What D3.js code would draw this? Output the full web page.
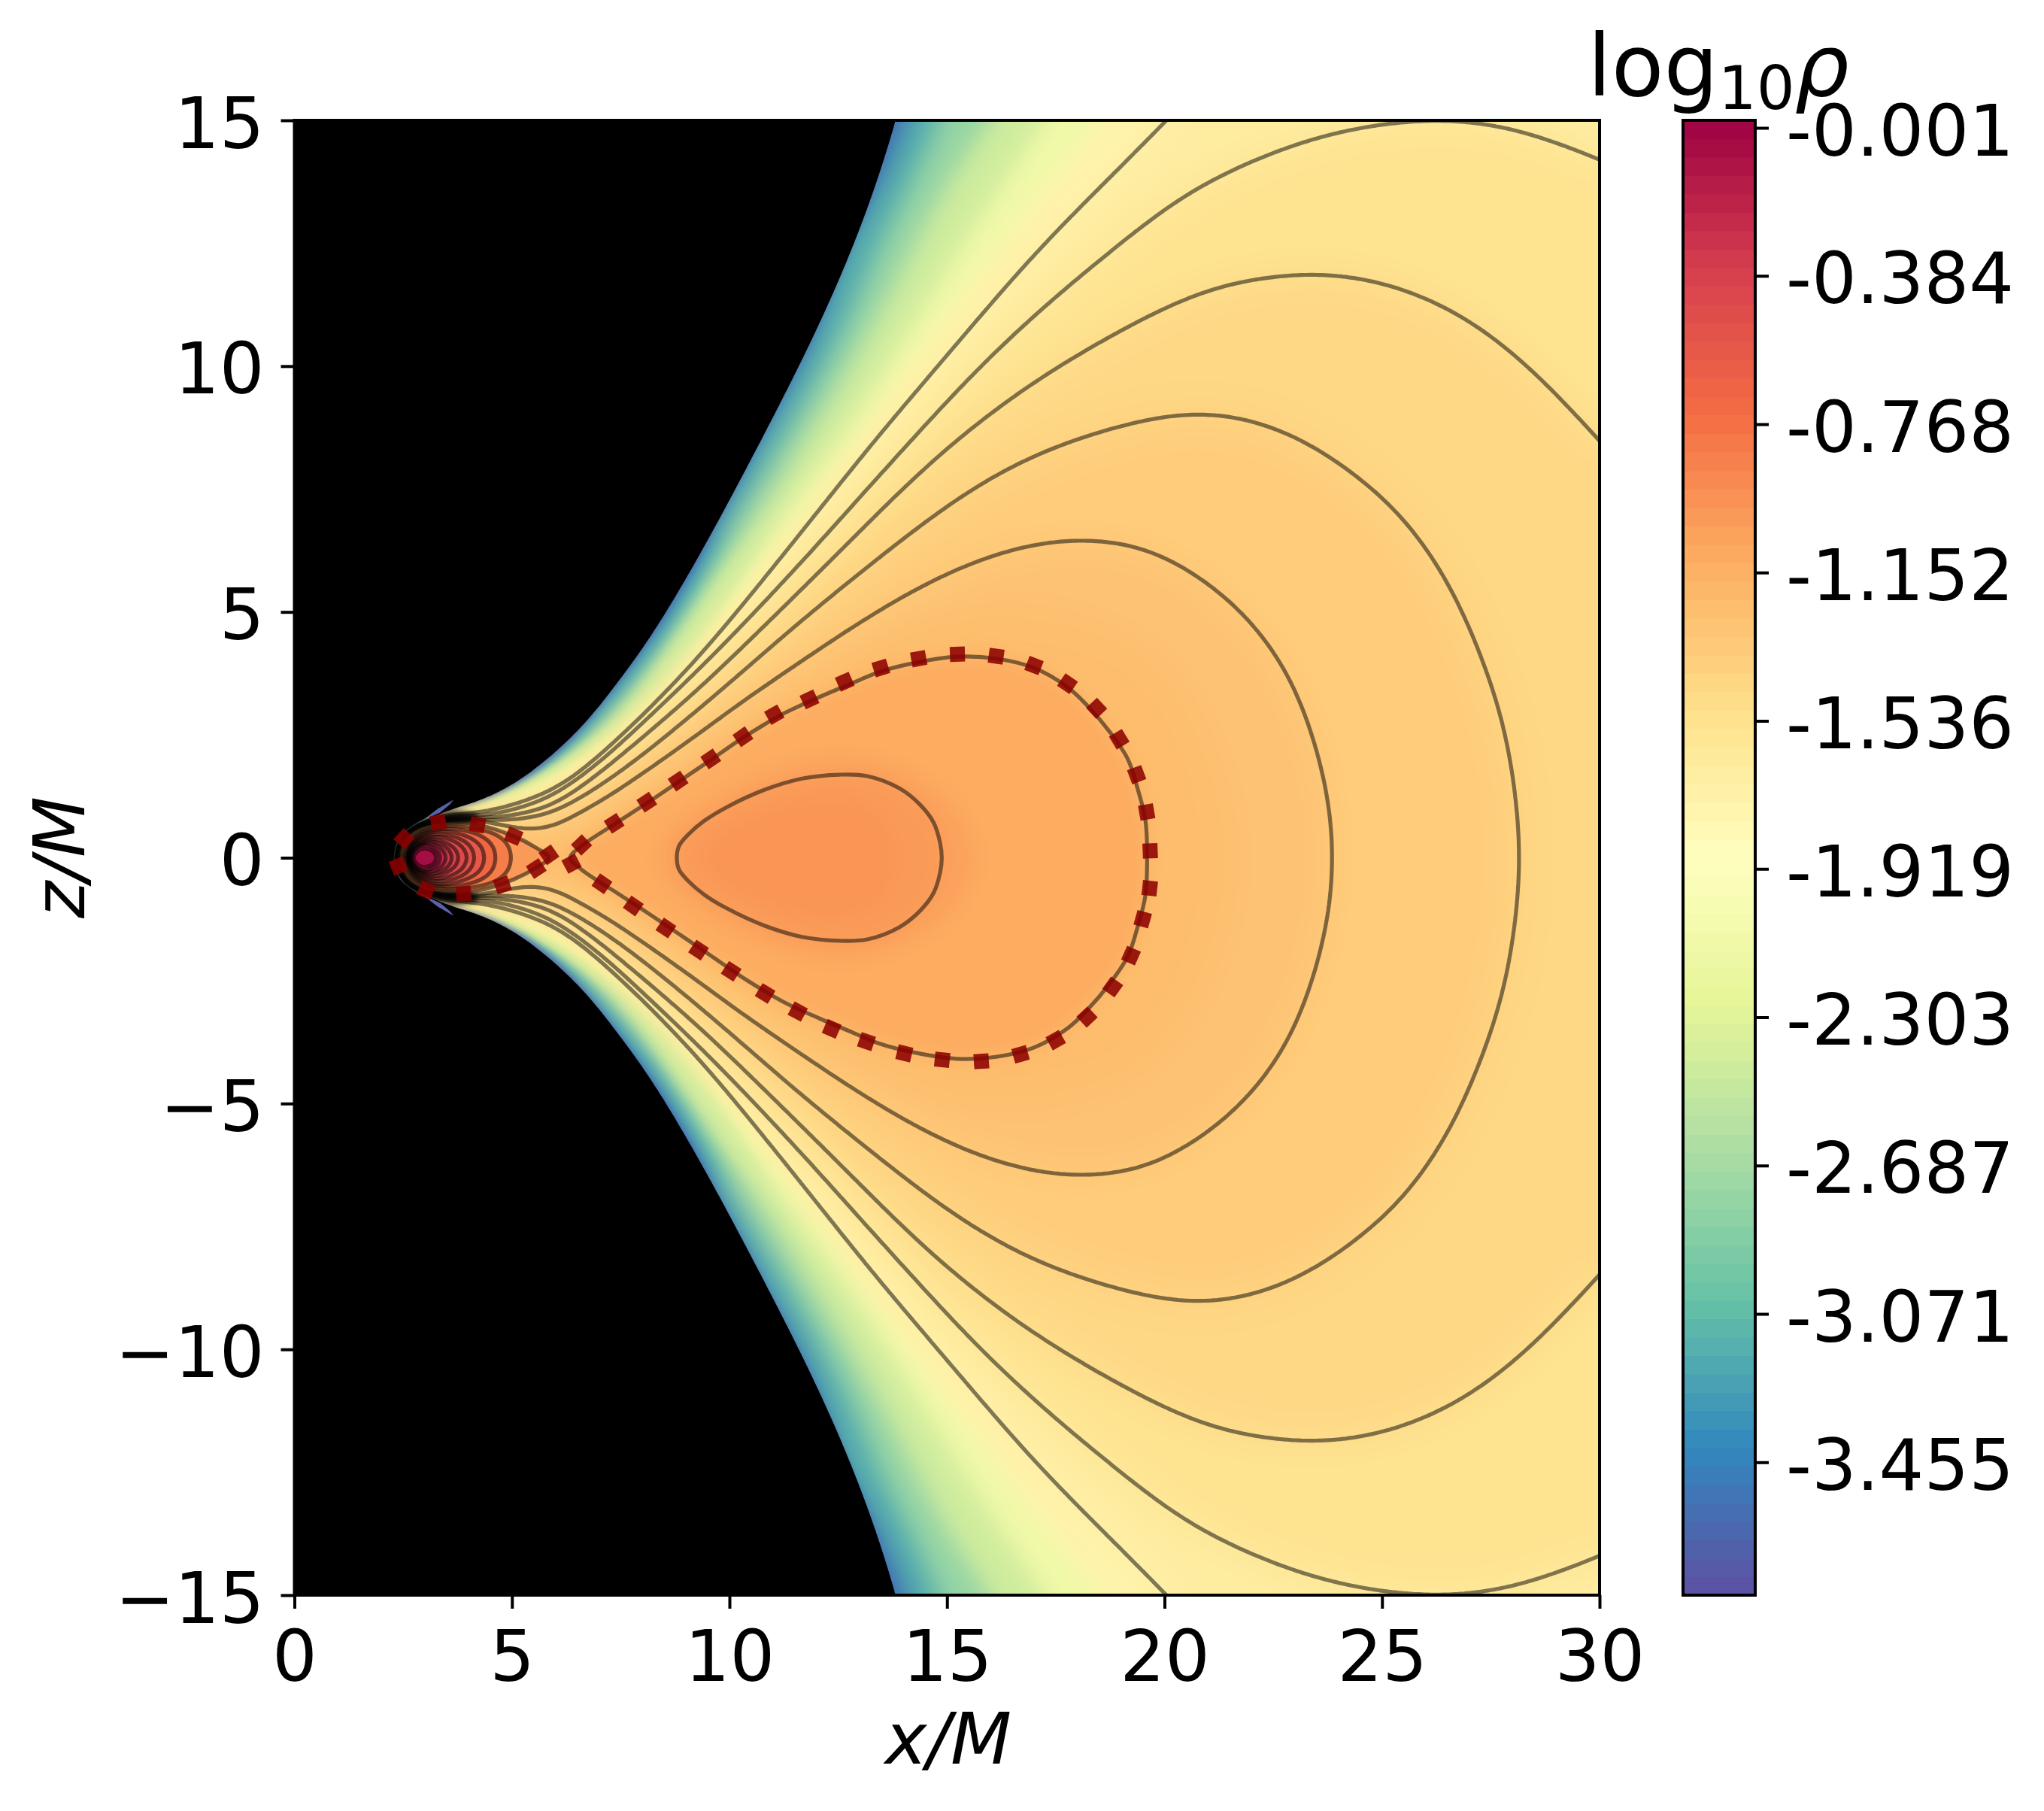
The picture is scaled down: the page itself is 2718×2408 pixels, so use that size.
<!DOCTYPE html>
<html><head><meta charset="utf-8">
<script src="https://cdn.jsdelivr.net/npm/d3@7"></script>
<style>html,body{margin:0;background:#fff}svg{display:block}text{font-family:"DejaVu Sans";fill:#000}</style>
</head><body><svg id="c" width="2718" height="2408"></svg>
<script>
const xTicks=[0,5,10,15,20,25,30];
const zTicks=[-15,-10,-5,0,5,10,15];
const cbarTicks=["-0.001","-0.384","-0.768","-1.152","-1.536","-1.919","-2.303","-2.687","-3.071","-3.455"];
const cbarDomain=[-3.799,0.0185];
const cbarBandCount=80;
const spectralR=["#5e4fa2","#3288bd","#66c2a5","#abdda4","#e6f598","#ffffbf","#fee08b","#fdae61","#f46d43","#d53e4f","#9e0142"];

const wall=[[13.9,15.3],[13.85,15.05],[13.3,13.44],[12.4,11.45],[11.41,9.65],[10.52,8.14],[9.6,6.6],[8.70,5.21],[8.04,4.29],[7.40,3.53],[6.77,2.81],[6.08,2.2],[5.33,1.66],[4.76,1.36],[4.18,1.13],[3.60,.99],[2.92,.74],[2.45,.46],[2.22,0]];
const bandBlue=[[14.2,15.05],[13.6,13.6],[12.9,12.55],[12.37,11.1],[11.72,9.8],[10.84,8.5],[10.52,7.84],[9.7,6.55],[8.80,5.1],[8.1,4.2],[7.46,3.45],[6.83,2.75],[6.13,2.15],[5.38,1.63],[4.8,1.34],[4.2,1.12],[3.6,.98],[2.92,.73],[2.45,.45],[2.22,0]];
const bandTeal=[[14.9,15.05],[14.2,13.6],[13.5,12.55],[12.9,11.1],[12.2,9.9],[11.3,8.5],[10.52,7.4],[9.8,6.25],[8.95,4.95],[8.25,4.05],[7.6,3.3],[6.95,2.65],[6.2,2.08],[5.43,1.58],[4.85,1.3],[4.2,1.09],[3.6,.97],[2.9,.72],[2.44,.45],[2.22,0]];
const bandGreen=[[16.06,15.05],[15.06,13.8],[14.3,12.45],[13.5,11.1],[12.75,9.9],[11.77,8.5],[11.1,7.55],[10.52,6.79],[9.5,5.4],[8.55,4.2],[7.75,3.2],[6.9,2.45],[6.0,1.85],[5.0,1.38],[4.3,1.1],[3.6,.96],[2.88,.71],[2.43,.44],[2.22,0]];
const bandPale=[[17.3,15.05],[15.4,12.55],[14.4,11.1],[13.4,9.65],[12.76,8.75],[11.9,7.76],[11.26,6.95],[10.52,6.0],[9.94,5.16],[8.79,3.85],[7.92,3.0],[6.83,2.2],[5.91,1.64],[4.76,1.18],[3.6,.95],[2.85,.70],[2.42,.44],[2.24,0]];
const bandYellow=[[18.6,15.05],[16.3,12.55],[14.0,9.8],[12.55,8],[10.2,5.2],[8.02,3],[7.0,2.2],[6.15,1.6],[5.1,1.15],[4.0,.92],[3.1,.84],[2.65,.66],[2.39,.42],[2.24,0]];

const lineL1=[[20.1,15.05],[19.16,14.2],[17.9,13.1],[16.7,12],[14.6,9.8],[13.51,8.68],[12.53,7.6],[11.67,6.64],[10.37,5.21],[9.36,4.14],[8.21,3.07],[7.29,2.30],[6.48,1.68],[5.73,1.28],[4.75,1.0],[4.06,.90],[3.26,.85],[2.68,.67],[2.39,.41],[2.24,0]];
const lineL2=[[30,14.2],[28.9,14.6],[27.8,14.9],[26.64,15.03],[25.49,15.0],[24.05,14.8],[22.9,14.5],[21.46,13.98],[20.31,13.42],[19.16,12.63],[17.05,11.1],[15.53,9.8],[14.26,8.57],[13.11,7.45],[11.96,6.3],[10.52,4.93],[9.36,3.88],[8.21,2.91],[7.29,2.15],[6.48,1.57],[5.73,1.16],[4.75,.9],[4.06,.85],[3.26,.82],[2.68,.64],[2.41,.39],[2.26,0]];
const lineL3=[[30,8.48],[28.9,9.55],[27.8,10.46],[26.64,11.16],[25.49,11.6],[24.34,11.85],[23.19,11.92],[21.46,11.72],[20.31,11.33],[19.16,10.82],[17.14,9.8],[15.41,8.66],[14.14,7.66],[12.82,6.48],[11.67,5.47],[10.52,4.47],[9.36,3.48],[8.21,2.6],[7.29,1.92],[6.48,1.36],[5.73,.98],[4.75,.82],[4.18,.82],[3.26,.80],[2.68,.62],[2.43,.37],[2.28,0]];
const lineL4=[[28.2,0],[28.1,1.2],[27.85,2.6],[27.5,3.6],[27.0,4.75],[26.5,5.65],[26.07,6.25],[25.49,6.94],[24.83,7.5],[23.65,8.3],[22.4,8.85],[21.17,9.07],[20.31,9.05],[19.16,8.85],[17.43,8.38],[15.99,7.76],[14.55,6.89],[13.11,5.87],[11.67,4.85],[10.52,3.95],[9.36,3.07],[8.21,2.23],[7.29,1.62],[6.48,1.16],[5.73,.84],[4.75,.75],[4.18,.79],[3.26,.78],[2.68,.6],[2.44,.37],[2.3,0]];
const lineL5=[[23.9,0],[23.82,.98],[23.65,1.74],[23.36,2.66],[22.96,3.58],[22.44,4.34],[21.86,4.95],[21.29,5.41],[20.65,5.82],[19.9,6.2],[19.16,6.43],[17.83,6.52],[16.56,6.33],[15.12,5.87],[13.68,5.18],[12.24,4.36],[11.09,3.65],[10.52,3.33],[9.36,2.56],[8.21,1.84],[7.29,1.28],[6.48,.87],[5.91,.62],[5.33,.57],[4.75,.67],[4.18,.77],[3.26,.77],[2.68,.57],[2.45,.36],[2.32,0]];
const bandMid=[[21.6,0],[21.4,1.38],[20.88,2.66],[20.19,3.83],[19.16,4.6],[16.56,5.18],[14.55,4.9],[12.82,4.29],[11.67,3.68],[10.52,3.07],[9.3,2.3],[8.1,1.5],[7.2,.95],[6.4,.6],[5.6,.55],[4.8,.62],[4.2,.72],[3.3,.74],[2.7,.55],[2.43,.34],[2.33,0]];
const lineTorus=[[19.6,0],[19.56,.77],[19.39,1.38],[19.16,2.0],[18.75,2.55],[18.23,3.09],[17.77,3.47],[17.0,3.86],[16.13,4.05],[15.24,4.09],[14.35,3.98],[13.48,3.79],[12.82,3.55],[12.07,3.27],[11.26,2.94],[10.31,2.44],[9.57,1.99],[8.82,1.54],[8.10,1.11],[7.35,.68],[6.6,.24],[6.34,0]];
const lineLoop=[[5.85,0],[5.56,.2],[5.04,.44],[4.21,.67],[3.31,.72],[2.8,.62],[2.52,.39],[2.38,0]];
const bandTorusOuter=[[8.41,0],[8.6,.5],[9.5,1.1],[10.8,1.7],[12.5,2.05],[14.0,1.75],[15.1,1.1],[15.64,0]];
const lineCore=[[8.79,0],[8.84,.24],[9.05,.47],[9.42,.75],[9.94,1.03],[10.8,1.38],[11.67,1.61],[12.53,1.69],[13.17,1.66],[13.91,1.41],[14.38,1.08],[14.69,.72],[14.84,.31],[14.88,0]];
const bandCoreInner=[[9.42,0],[9.7,.4],[10.7,.9],[12.07,1.2],[13.2,1.05],[13.7,.55],[13.85,0]];

const oval1=[[5.0,0],[4.93,.263],[4.70,.456],[4.35,.569],[3.95,.63],[3.49,.655],[3.03,.594],[2.71,.416],[2.57,.186],[2.54,0]];
const oval2=[[4.64,0],[4.58,.24],[4.38,.416],[4.06,.533],[3.66,.594],[3.26,.579],[2.91,.49],[2.67,.314],[2.57,0]];
const oval3=[[4.38,0],[4.32,.214],[4.15,.365],[3.86,.477],[3.55,.543],[3.2,.543],[2.88,.441],[2.67,.263],[2.58,0]];
const oval4=[[4.15,0],[4.09,.186],[3.95,.324],[3.72,.426],[3.43,.482],[3.14,.477],[2.85,.39],[2.67,.222],[2.6,0]];
const oval5=[[3.98,0],[3.92,.16],[3.79,.288],[3.57,.38],[3.34,.431],[3.08,.426],[2.85,.354],[2.68,.196],[2.61,0]];
const oval6=[[3.78,0],[3.73,.145],[3.61,.252],[3.43,.334],[3.23,.38],[3.03,.375],[2.83,.303],[2.68,.171],[2.62,0]];
const oval7=[[3.63,0],[3.59,.119],[3.49,.222],[3.34,.293],[3.17,.339],[3.0,.334],[2.83,.273],[2.7,.15],[2.64,0]];
const oval8=[[3.49,0],[3.45,.11],[3.36,.2],[3.25,.263],[3.1,.298],[2.96,.288],[2.83,.237],[2.72,.135],[2.66,0]];
const oval9=[[3.36,0],[3.33,.1],[3.25,.176],[3.14,.232],[3.03,.263],[2.91,.253],[2.81,.206],[2.73,.12],[2.68,0]];
const oval10=[[3.27,0],[3.23,.1],[3.14,.16],[3.0,.191],[2.88,.176],[2.79,.11],[2.72,0]];

const cuspShadow=[[4.2,.9],[3.6,.95],[2.92,.74],[2.45,.46],[2.24,0],[2.6,0],[2.62,.2],[2.78,.42],[3.25,.62],[3.8,.68],[4.2,.74]];
const cuspRim=[[3.1,.82],[2.75,.66],[2.45,.44],[2.33,.2],[2.3,0]];

// log10(rho) filling the region inside each drawn contour
const openFillLevels=[-3.56,-3.15,-2.77,-2.42,-2.12,-1.74,-1.66,-1.55,-1.45,-1.364,-1.28,-1.24];
const coreFillLevels=[-1.113,-1.055,-1.01,-.98];
const ovalFillLevels=[-1.012,-.84,-.688,-.573,-.516,-.459,-.401,-.325,-.249,-.153,-.027];

const spike=[[2.95,.76],[3.3,1.0],[3.66,1.18],[3.58,1.09],[3.35,.92]];
const dotsRing=[[6.6,.26],[7.35,.70],[8.10,1.13],[8.82,1.56],[9.57,2.01],[10.31,2.46],[11.03,2.91],[11.84,3.22],[12.65,3.58],[13.48,3.86],[14.35,4.05],[15.24,4.14],[16.13,4.10],[17.0,3.91],[17.77,3.54],[18.44,3.04],[18.96,2.41],[19.36,1.69],[19.59,.93],[19.67,.14],[19.66,-.62],[19.5,-1.25],[19.23,-1.99],[18.81,-2.63],[18.22,-3.24],[17.5,-3.71],[16.69,-4.0],[15.79,-4.14],[14.89,-4.11],[14.02,-3.98],[13.15,-3.74],[12.35,-3.48],[11.57,-3.13],[10.82,-2.76],[10.04,-2.31],[9.29,-1.88],[8.54,-1.43],[7.79,-.98],[7.07,-.53],[6.37,-.12]];
const dotsLoop=[[5.85,.06],[5.04,.44],[4.21,.67],[3.31,.72],[2.52,.39],[2.39,-.17],[3.03,-.66],[3.89,-.73],[4.78,-.555],[5.56,-.22]];

const svg=d3.select("#c");
const x=d3.scaleLinear([0,30],[391.5,2127]);
const y=d3.scaleLinear([-15,15],[2121,160]);
const cy=d3.scaleLinear(cbarDomain,[2121,160]);
const tOf=d3.scaleLinear([-3.8175+0.0185,0.0185],[0,1]);
const cmap=d3.scaleLinear(d3.range(11).map(i=>i/10),spectralR).interpolate(d3.interpolateRgb).clamp(true);
const col=v=>cmap(tOf(v));
const basisOpen=d3.line(d=>x(d[0]),d=>y(d[1])).curve(d3.curveBasis);
const basisClosed=d3.line(d=>x(d[0]),d=>y(d[1])).curve(d3.curveBasisClosed);
const lineClosed=d3.line(d=>x(d[0]),d=>y(d[1])).curve(d3.curveCatmullRomClosed.alpha(.5));
const lineThrough=d3.line(d=>x(d[0]),d=>y(d[1])).curve(d3.curveCatmullRom.alpha(.5));
const mirror=p=>{const lo=p.slice(0,-1).reverse().map(d=>[d[0],-d[1]]);return p.concat(lo);};
const loop=p=>p.concat(p.slice(1,-1).reverse().map(d=>[d[0],-d[1]]));
const P=(a,b)=>`L${x(a)},${y(b)}`;
const probe=svg.append("path").attr("fill","none").style("visibility","hidden");
function fair(d,closed){
  probe.attr("d",d);
  const n=probe.node(),L=n.getTotalLength(),step=4,N=Math.floor(L/step),pts=[];
  for(let i=0;i<=N;i++){const q=n.getPointAtLength(i*L/N);pts.push([q.x,q.y]);}
  const out=pts.map((p,i)=>{
    const s=Math.max(1,Math.min(9,(p[0]-x(6.5))/(x(11)-x(6.5))*9));
    const r=Math.ceil(3*s);let sx=0,sy=0,sw=0;
    for(let k=-r;k<=r;k++){
      let j=i+k;
      if(closed){j=(j+N*2)%N;}else{if(j<0)j=-j;if(j>N)j=2*N-j;}
      const w=Math.exp(-k*k/(2*s*s));sx+=w*pts[j][0];sy+=w*pts[j][1];sw+=w;
    }
    return [sx/sw,sy/sw];
  });
  out[0]=closed?out[0]:pts[0];if(!closed)out[N]=pts[N];
  return "M"+out.map(p=>p[0].toFixed(1)+","+p[1].toFixed(1)).join("L")+(closed?"Z":"");
}
const fOpen=p=>fair(basisOpen(mirror(p)),false);
const fClosed=p=>fair(basisClosed(loop(p)),true);
function openPath(p){
  const s=p[0];
  if(s[1]>=15)  return fOpen(p)+P(s[0],-17)+P(33,-17)+P(33,17)+P(s[0],17)+"Z";
  return fOpen(p)+P(33,-s[1])+P(33,s[1])+"Z";
}
const defs=svg.append("defs");
defs.append("clipPath").attr("id","pl").append("rect").attr("x",x(0)).attr("y",y(15)).attr("width",x(30)-x(0)).attr("height",y(-15)-y(15));
const addBlur=(id,s)=>defs.append("filter").attr("id",id).attr("filterUnits","userSpaceOnUse").attr("x",-300).attr("y",-300).attr("width",3400).attr("height",3000).append("feGaussianBlur").attr("stdDeviation",s);
[["bB",26],["bC",12],["bD",1],["bM",20],["bS",3]].forEach(d=>addBlur(d[0],d[1]));
const plot=svg.append("g").attr("clip-path","url(#pl)");
plot.append("rect").attr("x",x(0)).attr("y",y(15)).attr("width",x(30)-x(0)).attr("height",y(-15)-y(15)).attr("fill",col(-3.8));

const outerBands=[wall,bandBlue,bandTeal,bandGreen,bandPale,bandYellow];
const outerPaths=outerBands.map(openPath);
[[3,0],[8,2.6],[15,6.5]].forEach(([sd,zFrom],k)=>{
  addBlur("bA"+k,sd);
  let host=plot;
  if(zFrom>0){
    const m=defs.append("mask").attr("id","mA"+k).attr("maskUnits","userSpaceOnUse").attr("x",-300).attr("y",-300).attr("width",3400).attr("height",3000);
    const mg=m.append("g").attr("filter","url(#bM)").attr("fill","#fff");
    mg.append("rect").attr("x",-300).attr("width",3400).attr("y",-300).attr("height",y(zFrom)+300);
    mg.append("rect").attr("x",-300).attr("width",3400).attr("y",y(-zFrom)).attr("height",3000);
    host=plot.append("g").attr("mask","url(#mA"+k+")");
  }
  host.append("g").attr("filter","url(#bA"+k+")").selectAll("path").data(outerPaths).join("path")
    .attr("d",d=>d).attr("fill",(d,i)=>col(openFillLevels[i]));
});
const gB=plot.append("g").attr("filter","url(#bB)");
gB.selectAll("path.o").data([lineL1,lineL2,lineL3]).join("path").attr("class","o").attr("d",openPath)
  .attr("fill",(d,i)=>col(openFillLevels[i+6]));
gB.selectAll("path.p").data([lineL4,lineL5,bandMid]).join("path").attr("class","p").attr("d",fClosed)
  .attr("fill",(d,i)=>col(openFillLevels[i+9]));
const gC=plot.append("g").attr("filter","url(#bC)");
gC.selectAll("path").data([lineTorus,bandTorusOuter,lineCore,bandCoreInner]).join("path").attr("d",d=>lineClosed(loop(d))).attr("fill",(d,i)=>col(coreFillLevels[i]));
const ovals=[lineLoop,oval1,oval2,oval3,oval4,oval5,oval6,oval7,oval8,oval9,oval10];
const gD=plot.append("g").attr("filter","url(#bD)");
const ovalPath=d=>d===lineLoop?lineClosed(loop(d)):basisClosed(loop(d));
gD.selectAll("path").data(ovals).join("path").attr("d",ovalPath).attr("fill",(d,i)=>col(ovalFillLevels[i]));

// densely stacked contours darken the sliver next to the inner edge
[1,-1].forEach(s=>plot.append("path").attr("d",lineThrough(cuspShadow.map(d=>[d[0],s*d[1]]))+"Z").attr("fill","#000").attr("fill-opacity",.78).attr("filter","url(#bS)"));

plot.append("path").attr("d",fOpen(wall)+P(wall[0][0],-17)+P(-2,-17)+P(-2,17)+P(wall[0][0],17)+"Z").attr("fill","#000");
[1,-1].forEach(s=>plot.append("path").attr("d",d3.line(d=>x(d[0]),d=>y(s*d[1]))(spike)+"Z").attr("fill","#5a62ab"));
plot.append("path").attr("d",lineThrough(mirror(cuspRim))).attr("fill","none").attr("stroke","#a5dcc0").attr("stroke-width",2);

const cl=plot.append("g").attr("fill","none").attr("stroke","#000").attr("stroke-opacity",.5).attr("stroke-width",5.2);
cl.selectAll("path.a").data([lineL1,lineL2,lineL3]).join("path").attr("class","a").attr("d",fOpen);
cl.selectAll("path.c").data([lineL4,lineL5]).join("path").attr("class","c").attr("d",fClosed);
cl.selectAll("path.b").data([lineTorus,lineLoop,lineCore]).join("path").attr("class","b").attr("d",d=>lineClosed(loop(d)));
cl.selectAll("path.v").data(ovals.slice(1)).join("path").attr("class","v").attr("d",ovalPath);

const side=20;
function drawDots(arr){
  plot.append("g").selectAll("rect").data(arr).join("rect")
    .attr("x",-side/2).attr("y",-side/2).attr("width",side).attr("height",side)
    .attr("fill","#8b0000").attr("fill-opacity",.87)
    .attr("transform",(d,i)=>{
      const n=arr.length,a=arr[(i-1+n)%n],b=arr[(i+1)%n];
      const ang=Math.atan2(y(b[1])-y(a[1]),x(b[0])-x(a[0]))*180/Math.PI;
      return `translate(${x(d[0])},${y(d[1])}) rotate(${ang})`;
    });
}
drawDots(dotsRing);drawDots(dotsLoop);
probe.remove();

svg.append("rect").attr("x",x(0)).attr("y",y(15)).attr("width",x(30)-x(0)).attr("height",y(-15)-y(15)).attr("fill","none").attr("stroke","#000").attr("stroke-width",4);
const fmt=v=>String(v).replace("-","\u2212");
const style=g=>{g.select(".domain").remove();g.selectAll(".tick line").attr("stroke","#000").attr("stroke-width",4);g.selectAll("text").attr("font-size",94).attr("fill","#000").attr("font-family","DejaVu Sans");};
svg.append("g").attr("transform",`translate(0,${y(-15)})`).call(d3.axisBottom(x).tickValues(xTicks).tickFormat(fmt).tickSize(18).tickPadding(0)).call(style)
  .call(g=>g.selectAll("text").attr("y",0).attr("dy",0).attr("transform","translate(0,114)"));
svg.append("g").attr("transform",`translate(${x(0)},0)`).call(d3.axisLeft(y).tickValues(zTicks).tickFormat(fmt).tickSize(18).tickPadding(0)).call(style)
  .call(g=>g.selectAll("text").attr("x",-40).attr("dy",0).attr("y",36));
svg.append("text").attr("x",1261).attr("y",2345).attr("text-anchor","middle").attr("font-size",94).attr("font-style","italic").text("x/M");
svg.append("text").attr("transform","translate(112,1140) rotate(-90)").attr("text-anchor","middle").attr("font-size",94).attr("font-style","italic").text("z/M");

const cbX=2238,cbW=96;
const cbStep=(cbarDomain[1]-cbarDomain[0])/cbarBandCount;
const cbBands=d3.range(cbarBandCount).map(i=>cbarDomain[0]+i*cbStep);
svg.append("g").selectAll("rect").data(cbBands).join("rect")
  .attr("x",cbX).attr("width",cbW)
  .attr("y",d=>cy(d+cbStep)).attr("height",d=>cy(d)-cy(d+cbStep)+.6)
  .attr("fill",d=>col(d+cbStep/2));
svg.append("rect").attr("x",cbX).attr("y",160).attr("width",cbW).attr("height",1961).attr("fill","none").attr("stroke","#000").attr("stroke-width",4);
const cbAxis=svg.append("g").attr("transform",`translate(${cbX+cbW},0)`)
  .call(d3.axisRight(cy).tickValues(cbarTicks.map(Number)).tickFormat((d,i)=>cbarTicks[i]).tickSize(18).tickPadding(0)).call(style);
cbAxis.selectAll("text").attr("x",41).attr("dy",0).attr("y",36);

const title=svg.append("text").attr("x",2111).attr("y",127).attr("font-size",114);
title.append("tspan").text("log");
title.append("tspan").attr("font-size",80).attr("dy",18).text("10");
title.append("tspan").attr("dy",-18).attr("font-style","italic").text("\u03c1");
</script></body></html>
